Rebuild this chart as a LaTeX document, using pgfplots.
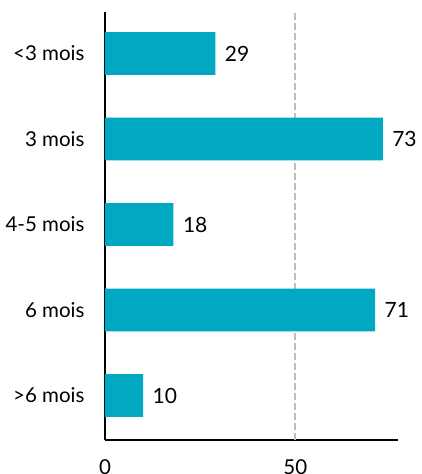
\documentclass[border=0pt]{standalone}
\usepackage{fontspec}
\setmainfont{Lato}
\usepackage{pgfplots}
\pgfplotsset{compat=1.18}
\definecolor{barc}{HTML}{00A8C1}
\definecolor{gridc}{HTML}{BDBDBD}
\begin{document}
\begin{tikzpicture}
\begin{axis}[
  scale only axis, width=293pt, height=428pt,
  xmin=0, xmax=77, ymin=-0.52, ymax=4.485,
  xbar, bar width=0.5,
  axis x line*=bottom, axis y line*=left,
  axis line style={line width=1.7pt, black, -},
  xtick={0,50}, ytick={0,1,2,3,4},
  yticklabels={{>6 mois},{6 mois},{4-5 mois},{3 mois},{<3 mois}},
  major tick length=0pt,
  tick label style={font=\fontsize{20.5}{24}\selectfont, text=black},
  yticklabel style={xshift=-17pt},
  xticklabel style={yshift=-16.5pt},
  extra x ticks={50}, extra x tick labels={},
  extra x tick style={grid=major, grid style={gridc, line width=1.8pt, dash pattern=on 6.5pt off 3.5pt}},
  nodes near coords,
  nodes near coords style={font=\fontsize{21}{24}\selectfont, text=black, anchor=west, xshift=6pt},
  /pgf/number format/assume math mode=true,
]
\addplot[fill=barc, draw=none] coordinates {(10,0) (71,1) (18,2) (73,3) (29,4)};
\end{axis}
\pgfresetboundingbox
\path[use as bounding box] (-105pt,-34pt) rectangle (317pt,440pt);
\end{tikzpicture}
\end{document}
